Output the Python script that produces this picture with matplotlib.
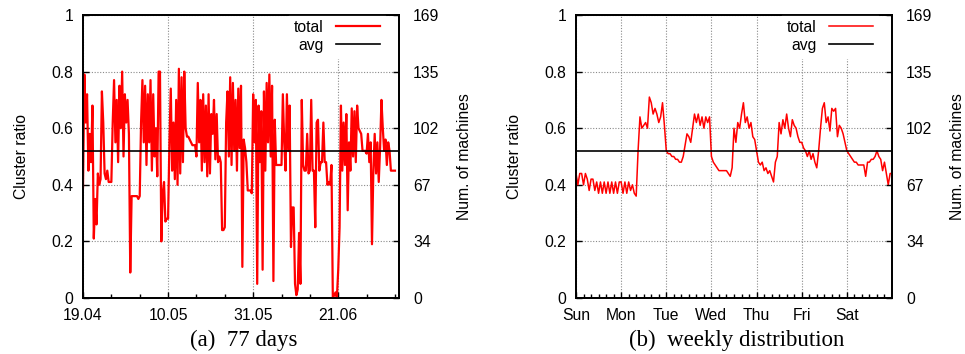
import numpy as np
import matplotlib
matplotlib.use("Agg")
import matplotlib.pyplot as plt
from matplotlib.ticker import FixedLocator

plt.rcParams['font.family'] = ['Liberation Sans', 'DejaVu Sans']

# ---------------- data ----------------
# (a) 77 days, 3 samples per day (cluster ratio)
total_77 = [
    0.39, 0.79, 0.62,  0.72, 0.45, 0.58,  0.48, 0.68, 0.21,  0.35, 0.26, 0.44,
    0.40, 0.42, 0.73,  0.62, 0.44, 0.42,  0.45, 0.41, 0.41,  0.41, 0.62, 0.77,
    0.55, 0.70, 0.48,  0.75, 0.60, 0.80,  0.50, 0.72, 0.62,  0.70, 0.58, 0.09,
    0.36, 0.36, 0.36,  0.36, 0.36, 0.35,  0.36, 0.62, 0.77,  0.55, 0.75, 0.47,
    0.72, 0.55, 0.77,  0.45, 0.72, 0.50,  0.60, 0.43, 0.80,  0.80, 0.20, 0.37,
    0.41, 0.27, 0.28,  0.28, 0.55, 0.74,  0.45, 0.62, 0.42,  0.70, 0.40, 0.81,
    0.44, 0.78, 0.48,  0.80, 0.60, 0.57,  0.57, 0.56, 0.55,  0.54, 0.54, 0.54,
    0.50, 0.76, 0.55,  0.70, 0.45, 0.72,  0.48, 0.68, 0.43,  0.72, 0.44, 0.65,
    0.58, 0.70, 0.49,  0.65, 0.48, 0.50,  0.48, 0.24, 0.24,  0.25, 0.62, 0.73,
    0.50, 0.78, 0.47,  0.76, 0.52, 0.70,  0.45, 0.74, 0.53,  0.75, 0.11, 0.56,
    0.53, 0.48, 0.38,  0.38, 0.38, 0.37,  0.72, 0.55, 0.70,  0.05, 0.68, 0.48,
    0.66, 0.10, 0.73,  0.45, 0.76, 0.55,  0.79, 0.50, 0.75,  0.06, 0.63, 0.47,
    0.47, 0.47, 0.47,  0.47, 0.72, 0.55,  0.45, 0.72, 0.52,  0.68, 0.18, 0.32,
    0.32, 0.05, 0.01,  0.03, 0.23, 0.05,  0.70, 0.47, 0.45,  0.45, 0.58, 0.44,
    0.45, 0.70, 0.45,  0.45, 0.25, 0.62,  0.63, 0.45, 0.48,  0.48, 0.62, 0.48,
    0.48, 0.40, 0.41,  0.40, 0.47, 0.00,  0.01, 0.02, 0.00,  0.10, 0.25, 0.68,
    0.45, 0.62, 0.47,  0.65, 0.31, 0.55,  0.45, 0.67, 0.50,  0.66, 0.48, 0.68,
    0.60, 0.59, 0.58,  0.52, 0.52, 0.52,  0.51, 0.58, 0.48,  0.55, 0.19, 0.45,
    0.58, 0.44, 0.55,  0.41, 0.53, 0.70,  0.60, 0.52, 0.56,  0.47, 0.55, 0.52,
    0.45, 0.45, 0.45,  0.45,
]
samples_per_day_77 = 3
date_labels = ["19.04", "10.05", "31.05", "21.06"]
date_ticks_days = [0, 21, 42, 63]

# (b) weekly distribution, hourly samples
total_week = [
    # Sun
    0.44, 0.40, 0.44, 0.44, 0.40, 0.44, 0.42, 0.38, 0.42, 0.42, 0.38, 0.41,
    0.37, 0.41, 0.37, 0.41, 0.37, 0.41, 0.37, 0.41, 0.37, 0.41, 0.37, 0.41,
    # Mon
    0.41, 0.37, 0.41, 0.37, 0.41, 0.38, 0.40, 0.37, 0.36, 0.52, 0.64, 0.60,
    0.61, 0.62, 0.60, 0.71, 0.69, 0.65, 0.67, 0.65, 0.62, 0.64, 0.69, 0.61,
    # Tue
    0.52, 0.51, 0.51, 0.50, 0.50, 0.49, 0.49, 0.48, 0.48, 0.50, 0.54, 0.58,
    0.57, 0.55, 0.60, 0.65, 0.62, 0.65, 0.61, 0.64, 0.60, 0.64, 0.62, 0.64,
    # Wed
    0.50, 0.48, 0.47, 0.46, 0.45, 0.45, 0.45, 0.45, 0.45, 0.44, 0.43, 0.46,
    0.60, 0.55, 0.62, 0.60, 0.65, 0.69, 0.62, 0.64, 0.60, 0.62, 0.57, 0.56,
    # Thu
    0.52, 0.48, 0.47, 0.48, 0.45, 0.46, 0.44, 0.45, 0.43, 0.41, 0.48, 0.50,
    0.62, 0.58, 0.63, 0.60, 0.65, 0.60, 0.57, 0.63, 0.61, 0.60, 0.57, 0.55,
    # Fri
    0.55, 0.53, 0.52, 0.50, 0.52, 0.49, 0.51, 0.48, 0.46, 0.52, 0.60, 0.67,
    0.69, 0.62, 0.64, 0.59, 0.67, 0.66, 0.67, 0.57, 0.61, 0.60, 0.58, 0.55,
    # Sat
    0.52, 0.51, 0.50, 0.49, 0.48, 0.48, 0.47, 0.47, 0.47, 0.47, 0.43, 0.48,
    0.48, 0.49, 0.49, 0.50, 0.52, 0.50, 0.49, 0.45, 0.48, 0.44, 0.40, 0.44,
    0.44,
]
samples_per_day_week = 24
weekday_labels = ["Sun", "Mon", "Tue", "Wed", "Thu", "Fri", "Sat"]

avg_value = 0.52
left_ticks = [0, 0.2, 0.4, 0.6, 0.8, 1.0]
left_labels = ["0", "0.2", "0.4", "0.6", "0.8", "1"]
right_labels = ["0", "34", "67", "102", "135", "169"]

# ---------------- figure ----------------
fig = plt.figure(figsize=(9.65, 3.54), dpi=100)
W, H = 965, 354

def make_axes(x0, x1, y0=15, y1=298):
    return fig.add_axes([x0 / W, 1 - y1 / H, (x1 - x0) / W, (y1 - y0) / H])

FS = 11.3
grid_kw = dict(color="#8a8a8a", linestyle=(0, (1, 1.5)), linewidth=0.8)

def style(ax, xlim, major, major_labels, minor):
    ax.set_xlim(*xlim)
    ax.set_ylim(0, 1)
    ax.set_yticks(left_ticks)
    ax.set_yticklabels(left_labels, fontsize=FS)
    ax.set_xticks(major)
    ax.set_xticklabels(major_labels, fontsize=FS)
    ax.xaxis.set_minor_locator(FixedLocator(minor))
    ax.tick_params(axis="both", which="both", direction="in", top=False, right=True)
    ax.tick_params(axis="y", which="major", length=4, width=1, pad=7)
    ax.tick_params(axis="x", which="major", length=4, width=1, pad=7.5)
    ax.tick_params(axis="x", which="minor", length=3, width=1)
    ax.grid(True, which="major", **grid_kw)
    for s in ax.spines.values():
        s.set_linewidth(1.3)
    ax.set_ylabel("Cluster ratio", fontsize=FS, labelpad=16)
    ax2 = ax.twinx()
    ax2.set_ylim(0, 1)
    ax2.set_yticks(left_ticks)
    ax2.set_yticklabels(right_labels, fontsize=FS)
    ax2.tick_params(axis="y", direction="in", length=4, width=1, pad=10)
    ax2.set_ylabel("Num. of machines", fontsize=FS, labelpad=13)
    for s in ax2.spines.values():
        s.set_linewidth(1.3)
    return ax2

def draw(ax, xs, ys, xlim, lw):
    ax.plot(xs, ys, color="#ff0000", linewidth=lw, label="total", zorder=3)
    ax.plot(list(xlim), [avg_value, avg_value], color="black", linewidth=1.2,
            label="avg", zorder=4)
    leg = ax.legend(loc="upper right", frameon=True, fancybox=False,
                    edgecolor="white", facecolor="white", framealpha=1,
                    markerfirst=False, fontsize=FS, handlelength=2.8,
                    borderaxespad=0.0, borderpad=0.3, labelspacing=0.2,
                    handletextpad=0.8, bbox_to_anchor=(0.955, 1.0))
    leg.set_zorder(5)

# Panel (a)
axa = make_axes(83, 399)
xa = np.arange(len(total_77)) / samples_per_day_77
xlim_a = (0, 78)
draw(axa, xa, total_77, xlim_a, 1.6)
style(axa, xlim_a, date_ticks_days, date_labels,
      [d for d in range(7, 78, 7) if d not in date_ticks_days])

# Panel (b)
axb = make_axes(576, 892)
xb = np.arange(len(total_week)) / samples_per_day_week
xlim_b = (0, 7)
draw(axb, xb, total_week, xlim_b, 1.1)
style(axb, xlim_b, list(range(7)), weekday_labels,
      [i / 6 for i in range(43) if i % 6 != 0])

# captions
cap_kw = dict(fontsize=16.5, family=["Liberation Serif", "DejaVu Serif"],
              ha="center", va="center")
fig.text(244 / W, 1 - 340 / H, "(a)  77 days", **cap_kw)
fig.text(737 / W, 1 - 340 / H, "(b)  weekly distribution", **cap_kw)

fig.savefig("out.png", dpi=100)
